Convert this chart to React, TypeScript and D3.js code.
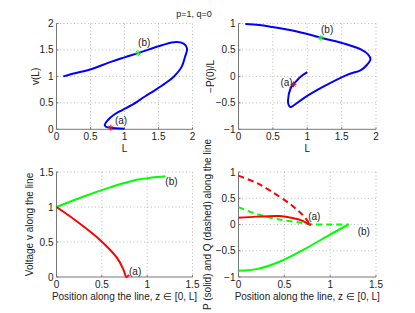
import React from 'react'
import * as d3 from 'd3'

// top-left: v(L) against L
const curveL = [0.1, 0.27, 0.47, 0.81, 1.0, 1.2, 1.55, 1.76, 1.87, 1.92, 1.89, 1.84, 1.72, 1.6, 1.45, 1.3, 1.11, 0.96, 0.84, 0.76, 0.71, 0.74, 0.8, 1.0]
const curveV = [1.0, 1.06, 1.12, 1.28, 1.36, 1.44, 1.59, 1.65, 1.62, 1.53, 1.37, 1.18, 0.99, 0.87, 0.74, 0.62, 0.46, 0.36, 0.27, 0.18, 0.08, 0.04, 0.03, 0.01]

// top-right: -P(0)/L against L
const curvePL = [0.1, 0.3, 0.46, 0.85, 1.2, 1.54, 1.78, 1.88, 1.92, 1.87, 1.78, 1.58, 1.24, 0.95, 0.8, 0.76, 0.73, 0.72, 0.76, 0.8, 0.9, 1.0]
const curveP = [0.99, 0.97, 0.94, 0.85, 0.73, 0.62, 0.51, 0.42, 0.33, 0.22, 0.12, 0.03, -0.19, -0.41, -0.55, -0.58, -0.54, -0.45, -0.22, -0.15, -0.01, 0.08]

// solution (a) and (b) at chosen L
const pointL = [0.8, 1.2]
const pointV = [0.03, 1.44]
const pointP = [-0.15, 0.73]

// bottom-left: voltage along the line
const zVa = [0, 0.23, 0.48, 0.67, 0.74, 0.77, 0.8]
const vA = [1, 0.79, 0.53, 0.27, 0.1, 0.0, 0.03]
const zVb = [0, 0.3, 0.59, 0.85, 1.05, 1.2]
const vB = [1, 1.15, 1.28, 1.38, 1.42, 1.44]

// bottom-right: P (solid) and Q (dashed)
const zPa = [0, 0.2, 0.45, 0.6, 0.7, 0.76, 0.79]
const pA = [0.13, 0.15, 0.16, 0.12, 0.07, 0.01, -0.01]
const zQa = [0, 0.2, 0.35, 0.57, 0.7, 0.77, 0.79]
const qA = [0.93, 0.79, 0.64, 0.38, 0.18, 0.03, -0.01]
const zPb = [0, 0.2, 0.46, 0.71, 0.97, 1.2]
const pB = [-0.88, -0.85, -0.7, -0.48, -0.22, 0.0]
const zQb = [0, 0.18, 0.35, 0.5, 0.7, 0.8, 1.0, 1.2]
const qB = [0.33, 0.21, 0.13, 0.08, 0.03, 0.005, 0, 0]

const ticks2 = [0, 0.5, 1, 1.5, 2]
const ticks15 = [0, 0.5, 1, 1.5]
const ticksPm1 = [-1, -0.5, 0, 0.5, 1]

const RED = '#ff0000'
const GREEN = '#00ff00'
const BLUE = '#0000ff'
const FONT = '"Liberation Sans", Arial, Helvetica, sans-serif'

const fmt = (d) => String(d).replace('-', '\u2212')

const zip = (xs, ys) => xs.map((x, i) => [x, ys[i]])

function Star({x, y, color}) {
	const r = 3
	const d = `M${x - r},${y}L${x + r},${y}M${x},${y - r}L${x},${y + r}` +
		`M${x - r * 0.7},${y - r * 0.7}L${x + r * 0.7},${y + r * 0.7}M${x - r * 0.7},${y + r * 0.7}L${x + r * 0.7},${y - r * 0.7}`
	return <path d={d} stroke={color} strokeWidth={1} fill="none"/>
}

function Panel(props) {
	const {box, xDom, yDom, xTicks, yTicks, xLabel, yLabel, yLabelX, lines, stars, notes} = props
	const x = d3.scaleLinear().domain(xDom).range([box.left, box.right])
	const y = d3.scaleLinear().domain(yDom).range([box.bottom, box.top])
	const line = d3.line().x(d => x(d[0])).y(d => y(d[1])).curve(d3.curveCatmullRom)
	const midX = (box.left + box.right) / 2
	const midY = (box.top + box.bottom) / 2

	return (
		<g>
			{/* dotted grid */}
			{xTicks.filter(t => t !== xDom[0]).map((t, i) => (
				<line key={`gx-${i}`} x1={x(t)} x2={x(t)} y1={box.top} y2={box.bottom}
					stroke="#aaa" strokeWidth={0.8} strokeDasharray="1,2.5"/>
			))}
			{yTicks.filter(t => t !== yDom[0]).map((t, i) => (
				<line key={`gy-${i}`} x1={box.left} x2={box.right} y1={y(t)} y2={y(t)}
					stroke="#aaa" strokeWidth={0.8} strokeDasharray="1,2.5"/>
			))}

			{/* axes */}
			<line x1={box.left} x2={box.left} y1={box.top} y2={box.bottom} stroke="#777" strokeWidth={1}/>
			<line x1={box.left} x2={box.right} y1={box.bottom} y2={box.bottom} stroke="#777" strokeWidth={1}/>
			{xTicks.map((t, i) => (
				<g key={`tx-${i}`}>
					<line x1={x(t)} x2={x(t)} y1={box.bottom} y2={box.bottom - 2} stroke="#777"/>
					<text x={x(t)} y={box.bottom + 11} textAnchor="middle" fontSize={10}>{fmt(t)}</text>
				</g>
			))}
			{yTicks.map((t, i) => (
				<g key={`ty-${i}`}>
					<line x1={box.left} x2={box.left + 2} y1={y(t)} y2={y(t)} stroke="#777"/>
					<text x={box.left - 3} y={y(t) + 3.5} textAnchor="end" fontSize={10}>{fmt(t)}</text>
				</g>
			))}
			<text x={midX} y={box.bottom + 23} textAnchor="middle" fontSize={10}>{xLabel}</text>
			<text transform={`translate(${yLabelX},${midY}) rotate(-90)`} textAnchor="middle" fontSize={10}>{yLabel}</text>

			{lines.map((s, i) => (
				<path key={`line-${i}`} d={line(zip(s.xs, s.ys))} fill="none" stroke={s.color}
					strokeWidth={2} strokeDasharray={s.dash ? '6,4' : null}/>
			))}
			{stars.map((s, i) => (
				<Star key={`star-${i}`} x={x(s.x)} y={y(s.y)} color={s.color}/>
			))}
			{notes.map((n, i) => (
				<text key={`note-${i}`} x={x(n.x)} y={y(n.y)} fontSize={10}>{n.text}</text>
			))}
		</g>
	)
}

export default function App() {
	const leftCol = {left: 56.5, right: 192.5}
	const rightCol = {left: 238.5, right: 376}
	const topRow = {top: 23.5, bottom: 129.3}
	const botRow = {top: 172, bottom: 277}

	return (
		<svg width={415} height={313} viewBox="0 0 415 313"
			style={{position: 'absolute', left: 0, top: 0, background: '#fff', fontFamily: FONT}}>
			<rect width={415} height={313} fill="#fff"/>
			<g fill="#222">
				<text x={194} y={17} textAnchor="middle" fontSize={9}>p=1, q=0</text>

				<Panel box={{...leftCol, ...topRow}} xDom={[0, 2]} yDom={[0, 2]}
					xTicks={ticks2} yTicks={ticks2} xLabel="L" yLabel="v(L)" yLabelX={39}
					lines={[{xs: curveL, ys: curveV, color: BLUE}]}
					stars={[{x: pointL[0], y: pointV[0], color: RED}, {x: pointL[1], y: pointV[1], color: GREEN}]}
					notes={[{x: 0.86, y: 0.1, text: '(a)'}, {x: 1.2, y: 1.57, text: '(b)'}]}/>

				<Panel box={{...rightCol, ...topRow}} xDom={[0, 2]} yDom={[-1, 1]}
					xTicks={ticks2} yTicks={ticksPm1} xLabel="L" yLabel={'\u2212P(0)/L'} yLabelX={214}
					lines={[{xs: curvePL, ys: curveP, color: BLUE}]}
					stars={[{x: pointL[0], y: pointP[0], color: RED}, {x: pointL[1], y: pointP[1], color: GREEN}]}
					notes={[{x: 0.61, y: -0.19, text: '(a)'}, {x: 1.2, y: 0.82, text: '(b)'}]}/>

				<Panel box={{...leftCol, ...botRow}} xDom={[0, 1.5]} yDom={[0, 1.5]}
					xTicks={ticks15} yTicks={ticks15} xLabel={'Position along the line, z \u2208 [0, L]'}
					yLabel="Voltage v along the line" yLabelX={33}
					lines={[{xs: zVb, ys: vB, color: GREEN}, {xs: zVa, ys: vA, color: RED}]}
					stars={[]}
					notes={[{x: 0.8, y: 0.03, text: '(a)'}, {x: 1.2, y: 1.31, text: '(b)'}]}/>

				<Panel box={{...rightCol, ...botRow}} xDom={[0, 1.5]} yDom={[-1, 1]}
					xTicks={ticks15} yTicks={ticksPm1} xLabel={'Position along the line, z \u2208 [0, L]'}
					yLabel="P (solid) and Q (dashed) along the line" yLabelX={211}
					lines={[
						{xs: zPb, ys: pB, color: GREEN},
						{xs: zQb, ys: qB, color: GREEN, dash: true},
						{xs: zPa, ys: pA, color: RED},
						{xs: zQa, ys: qA, color: RED, dash: true},
					]}
					stars={[]}
					notes={[{x: 0.76, y: 0.09, text: '(a)'}, {x: 1.3, y: -0.2, text: '(b)'}]}/>
			</g>
		</svg>
	)
}
